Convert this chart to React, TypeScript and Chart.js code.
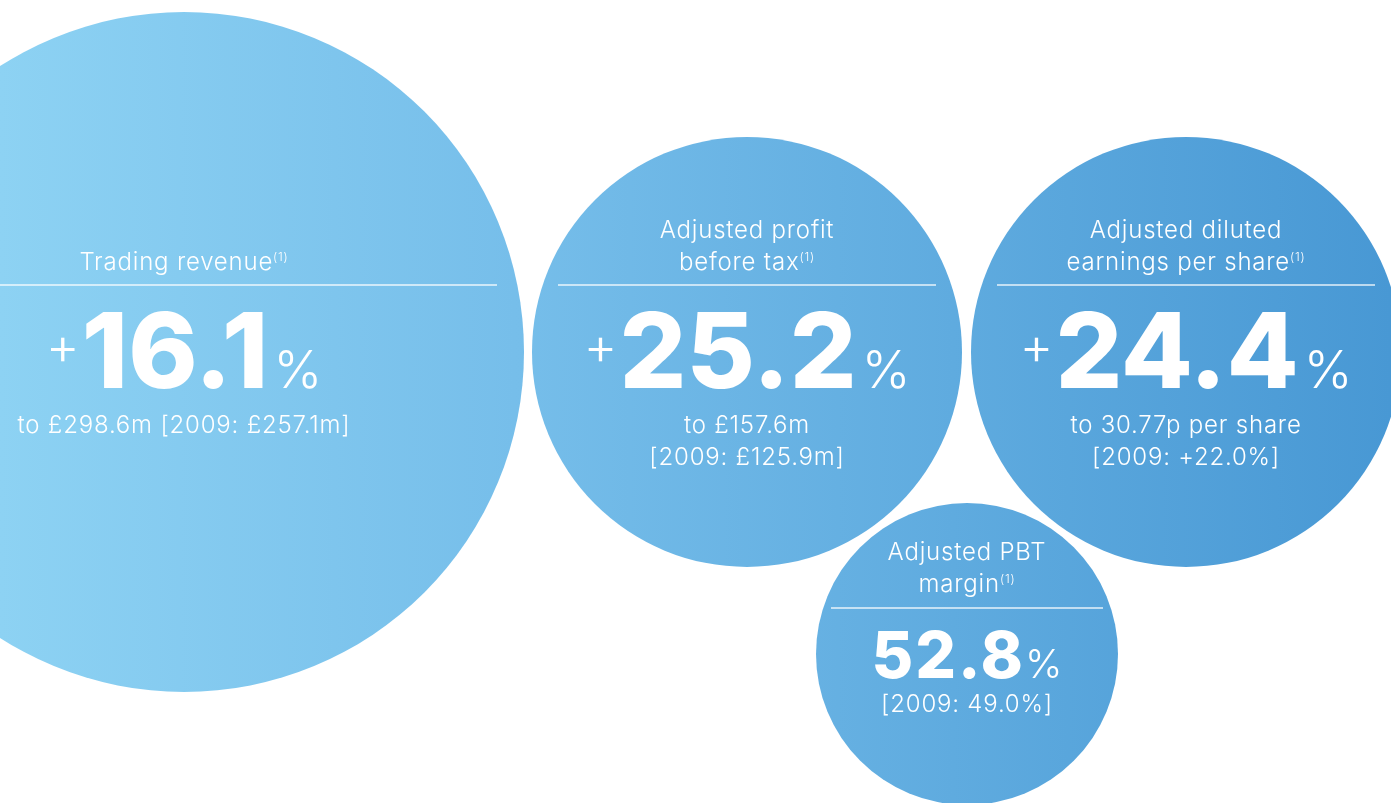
import React, { useEffect, useRef } from "react";
import { Chart, registerables } from "chart.js";

Chart.register(...registerables);

// ---- Data ----
const titleLines: string[][] = [
  ["Trading revenue"],
  ["Adjusted profit", "before tax"],
  ["Adjusted diluted", "earnings per share"],
  ["Adjusted PBT", "margin"],
];
const footnoteMark = "(1)";
const changeSigns = ["+", "+", "+", ""];
const changeValues = ["16.1", "25.2", "24.4", "52.8"];
const changeUnit = "%";
const detailLines: string[][] = [
  ["to £298.6m [2009: £257.1m]"],
  ["to £157.6m", "[2009: £125.9m]"],
  ["to 30.77p per share", "[2009: +22.0%]"],
  ["[2009: 49.0%]"],
];
const bubbleX = [184, 747, 1186, 967];
const bubbleY = [352, 352, 352, 654];
const bubbleR = [340, 215, 215, 151];

// ---- Styles / layout (offsets from each bubble centre) ----
const LAYOUT = [
  { titleBase: -82, rule: -67, ruleHalf: 313, numBase: 36, numSize: 105, numSpacing: 0, symSize: 52, plusLift: 24, gap: 5, detailBase: 81 },
  { titleBase: -82, rule: -67, ruleHalf: 189, numBase: 36, numSize: 105, numSpacing: 0, symSize: 52, plusLift: 24, gap: 5, detailBase: 81 },
  { titleBase: -82, rule: -67, ruleHalf: 189, numBase: 36, numSize: 105, numSpacing: 0, symSize: 52, plusLift: 24, gap: 5, detailBase: 81 },
  { titleBase: -62, rule: -46, ruleHalf: 136, numBase: 24, numSize: 64, numSpacing: 2, symSize: 40, plusLift: 16, gap: 2, detailBase: 58 },
];
const TEXT_FONT = "Inter";
const TEXT_WEIGHT = 300;
const NUM_FONT = "Inter";
const TEXT_SIZE = 24;
const TEXT_SPACING = "0.8px";
const LINE_H = 32;
const SUP_SIZE = 12;

const textPlugin = {
  id: "bubbleText",
  afterDatasetsDraw(chart: any) {
    const ctx: any = chart.ctx;
    const meta = chart.getDatasetMeta(0);
    ctx.save();
    ctx.fillStyle = "#ffffff";
    ctx.textBaseline = "alphabetic";
    const tf = (s: number) => `${TEXT_WEIGHT} ${s}px ${TEXT_FONT}`;
    meta.data.forEach((el: any, i: number) => {
      const cx = el.x;
      const cy = el.y;
      const L = LAYOUT[i];
      ctx.letterSpacing = TEXT_SPACING;
      // titles
      const lines = titleLines[i];
      lines.forEach((line, j) => {
        const base = cy + L.titleBase - (lines.length - 1 - j) * LINE_H;
        const isLast = j === lines.length - 1;
        ctx.font = tf(TEXT_SIZE);
        const w = ctx.measureText(line).width;
        let supW = 0;
        if (isLast) {
          ctx.font = tf(SUP_SIZE);
          supW = ctx.measureText(footnoteMark).width;
        }
        const x0 = cx - (w + supW) / 2;
        ctx.font = tf(TEXT_SIZE);
        ctx.textAlign = "left";
        ctx.fillText(line, x0, base);
        if (isLast) {
          ctx.font = tf(SUP_SIZE);
          ctx.fillText(footnoteMark, x0 + w, base - 9);
        }
      });
      // rule
      ctx.strokeStyle = "rgba(255,255,255,0.85)";
      ctx.lineWidth = 1.5;
      ctx.beginPath();
      ctx.moveTo(cx - L.ruleHalf, cy + L.rule);
      ctx.lineTo(cx + L.ruleHalf, cy + L.rule);
      ctx.stroke();
      // big number
      ctx.letterSpacing = "0px";
      const sign = changeSigns[i];
      const num = changeValues[i];
      ctx.font = tf(L.symSize);
      const signW = sign ? ctx.measureText(sign).width : 0;
      const pctW = ctx.measureText(changeUnit).width;
      ctx.font = `800 ${L.numSize}px ${NUM_FONT}`;
      ctx.letterSpacing = `${L.numSpacing}px`;
      const numW = ctx.measureText(num).width - L.numSpacing;
      ctx.letterSpacing = "0px";
      const total = signW + (sign ? 2 : 0) + numW + L.gap + pctW;
      let x = cx - total / 2;
      const nb = cy + L.numBase;
      ctx.textAlign = "left";
      if (sign) {
        ctx.font = tf(L.symSize);
        ctx.fillText(sign, x, nb - L.plusLift);
        x += signW + 2;
      }
      ctx.font = `800 ${L.numSize}px ${NUM_FONT}`;
      ctx.letterSpacing = `${L.numSpacing}px`;
      ctx.fillText(num, x, nb);
      ctx.letterSpacing = "0px";
      x += numW + L.gap;
      ctx.font = tf(L.symSize);
      ctx.fillText(changeUnit, x, nb);
      // details
      ctx.letterSpacing = TEXT_SPACING;
      ctx.font = tf(TEXT_SIZE);
      ctx.textAlign = "center";
      detailLines[i].forEach((line, j) => {
        ctx.fillText(line, cx, cy + L.detailBase + j * LINE_H);
      });
    });
    ctx.restore();
  },
};

export default function App() {
  const ref = useRef<HTMLCanvasElement | null>(null);
  useEffect(() => {
    document.body.style.margin = "0";
    const canvas = ref.current!;
    const chart = new Chart(canvas, {
      type: "bubble",
      data: {
        datasets: [
          {
            label: "Key performance indicators",
            data: bubbleX.map((x, i) => ({ x, y: bubbleY[i], r: bubbleR[i] })),
            backgroundColor: (c: any) => {
              const ch = c.chart;
              const g = ch.ctx.createLinearGradient(0, 0, ch.width, 0);
              g.addColorStop(0, "#8DD2F3");
              g.addColorStop(0.37, "#76BEEA");
              g.addColorStop(1, "#4898D4");
              return g;
            },
            borderWidth: 0,
            hoverBorderWidth: 0,
            clip: false as any,
          },
        ],
      },
      options: {
        animation: false,
        responsive: false,
        layout: { padding: 0, autoPadding: false } as any,
        scales: {
          x: { type: "linear", min: 0, max: 1391, display: false },
          y: { type: "linear", min: 0, max: 803, reverse: true, display: false },
        },
        plugins: { legend: { display: false }, tooltip: { enabled: false } },
        events: [],
      },
      plugins: [textPlugin],
    });
    (document as any).fonts?.ready?.then(() => chart.update());
    return () => chart.destroy();
  }, []);
  return (
    <canvas ref={ref} width={1391} height={803} style={{ display: "block", width: 1391, height: 803 }} />
  );
}
